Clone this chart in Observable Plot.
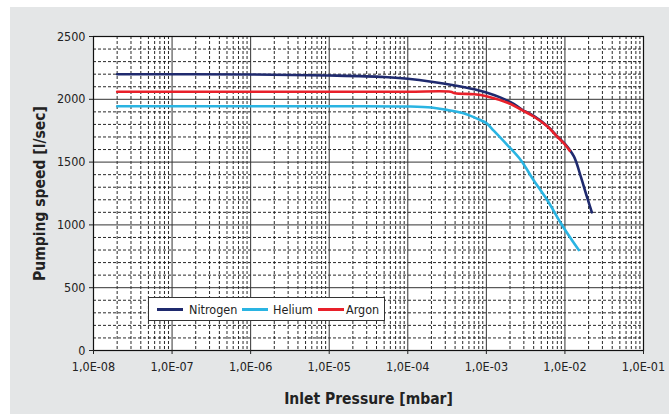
<!DOCTYPE html>
<html>
<head>
<meta charset="utf-8">
<script src="https://cdn.jsdelivr.net/npm/d3@7"></script>
<script src="https://cdn.jsdelivr.net/npm/@observablehq/plot@0.6"></script>
<style>
  html, body { margin: 0; padding: 0; background: #ffffff; }
  #wrap { position: relative; width: 669px; height: 414px; overflow: hidden; }
  #bg { position: absolute; left: 10px; top: 7px; right: 0; bottom: 0; background: #e4e6e7; }
  #chart { position: absolute; left: 0; top: 0; }
  #chart svg, #chart svg text { font-family: "DejaVu Sans", sans-serif; font-stretch: condensed; }
  #chart svg [aria-label="x-axis label"] text, #chart svg [aria-label="y-axis label"] text { font-weight: bold; font-size: 15.5px; fill: #222; }
  #legend { position: absolute; left: 148px; top: 297px; width: 237px; height: 24px; background: #fff; border: 1px solid #333;
    font-family: "DejaVu Sans", sans-serif; font-stretch: condensed; font-size: 12.5px; color: #222; box-sizing: border-box; }
  .item { position: absolute; top: 0; height: 22px; display: flex; align-items: center; white-space: nowrap; }
  .sw { width: 26px; height: 3px; }
</style>
</head>
<body>
<div id="wrap">
  <div id="bg"></div>
  <div id="chart"></div>
  <div id="legend"></div>
</div>
<script>
// ---- data ----
const seriesNames = ["Nitrogen", "Helium", "Argon"];
const seriesColors = ["#1f2a6e", "#2ab4e2", "#e8202a"];

const nitrogenP = [2e-8, 1e-6, 1e-5, 5e-5, 1e-4, 2e-4, 4e-4, 7e-4, 1e-3, 1.5e-3, 2.2e-3, 2.8e-3, 4e-3, 6e-3, 8e-3, 1e-2, 1.3e-2, 1.6e-2, 1.85e-2, 2.2e-2];
const nitrogenS = [2200, 2198, 2190, 2178, 2163, 2140, 2110, 2080, 2055, 2015, 1965, 1920, 1868, 1785, 1705, 1645, 1545, 1380, 1250, 1100];

const heliumP = [2e-8, 1e-6, 1e-5, 1e-4, 2e-4, 3e-4, 5e-4, 8e-4, 1e-3, 1.25e-3, 1.85e-3, 2.75e-3, 4e-3, 6e-3, 9e-3, 1.2e-2, 1.5e-2];
const heliumS = [1945, 1945, 1945, 1943, 1935, 1918, 1890, 1840, 1810, 1748, 1636, 1515, 1355, 1194, 1007, 887, 800];

const argonP = [2e-8, 1e-6, 1e-5, 1e-4, 3.5e-4, 4e-4, 7e-4, 1e-3, 1.9e-3, 2.8e-3, 4e-3, 6e-3, 8e-3, 1e-2, 1.15e-2];
const argonS = [2060, 2060, 2060, 2060, 2060, 2048, 2040, 2025, 1970, 1916, 1863, 1783, 1702, 1640, 1590];

const xTicks = [1e-8, 1e-7, 1e-6, 1e-5, 1e-4, 1e-3, 1e-2, 1e-1];
const xTickLabels = ["1,0E-08", "1,0E-07", "1,0E-06", "1,0E-05", "1,0E-04", "1,0E-03", "1,0E-02", "1,0E-01"];
const yTicks = [0, 500, 1000, 1500, 2000, 2500];
const yMinorStep = 100;
const xMinorMultipliers = [2, 3, 4, 5, 6, 7, 8, 9];

// ---- build tables ----
const toRows = (name, P, S) => P.map((p, i) => ({gas: name, p, s: S[i]}));
const rows = [
  ...toRows("Helium", heliumP, heliumS),
  ...toRows("Nitrogen", nitrogenP, nitrogenS),
  ...toRows("Argon", argonP, argonS)
];
const minorX = xTicks.slice(0, -1).flatMap(t => xMinorMultipliers.map(m => t * m));
const minorY = d3.range(0, 2500 + 1, yMinorStep).filter(v => !yTicks.includes(v));
const xLabelFor = d => {
  const k = Math.round(Math.log10(d));
  const i = xTicks.findIndex(t => Math.round(Math.log10(t)) === k);
  return i >= 0 ? xTickLabels[i] : "";
};

const chart = Plot.plot({
  width: 669,
  height: 414,
  marginLeft: 93,
  marginRight: 26,
  marginTop: 36,
  marginBottom: 64,
  style: {background: "transparent", fontSize: "12.5px", color: "#222"},
  x: {type: "log", domain: [1e-8, 1e-1]},
  y: {domain: [0, 2500]},
  color: {domain: seriesNames, range: seriesColors},
  marks: [
    Plot.frame({fill: "white", stroke: "none"}),
    Plot.ruleX(minorX, {stroke: "#111", strokeWidth: 0.9, strokeDasharray: "3,2"}),
    Plot.ruleY(minorY, {stroke: "#111", strokeWidth: 0.9, strokeDasharray: "3,2"}),
    Plot.ruleX(xTicks, {stroke: "#333", strokeWidth: 1}),
    Plot.ruleY(yTicks, {stroke: "#333", strokeWidth: 1}),
    Plot.line(rows, {x: "p", y: "s", z: "gas", stroke: "gas", strokeWidth: 2.6, curve: "catmull-rom"}),
    Plot.frame({stroke: "#111", strokeWidth: 1.2}),
    Plot.axisX({ticks: xTicks, tickFormat: xLabelFor, tickSize: 4, tickPadding: 8,
      label: "Inlet Pressure [mbar]", labelAnchor: "center", labelArrow: "none", labelOffset: 53}),
    Plot.axisY({ticks: yTicks, tickFormat: d3.format("d"), tickSize: 4, tickPadding: 4,
      label: "Pumping speed [l/sec]", labelAnchor: "center", labelArrow: "none", labelOffset: 60})
  ]
});
document.getElementById("chart").appendChild(chart);

// legend
const legend = document.getElementById("legend");
const itemLeft = [8, 93, 169];
const textGap = [6, 5, 2];
seriesNames.forEach((n, i) => {
  const it = document.createElement("div");
  it.className = "item";
  it.style.left = itemLeft[i] + "px";
  const sw = document.createElement("div");
  sw.className = "sw";
  sw.style.background = seriesColors[i];
  sw.style.marginRight = textGap[i] + "px";
  const t = document.createElement("span");
  t.textContent = n;
  it.appendChild(sw); it.appendChild(t);
  legend.appendChild(it);
});
</script>
</body>
</html>
